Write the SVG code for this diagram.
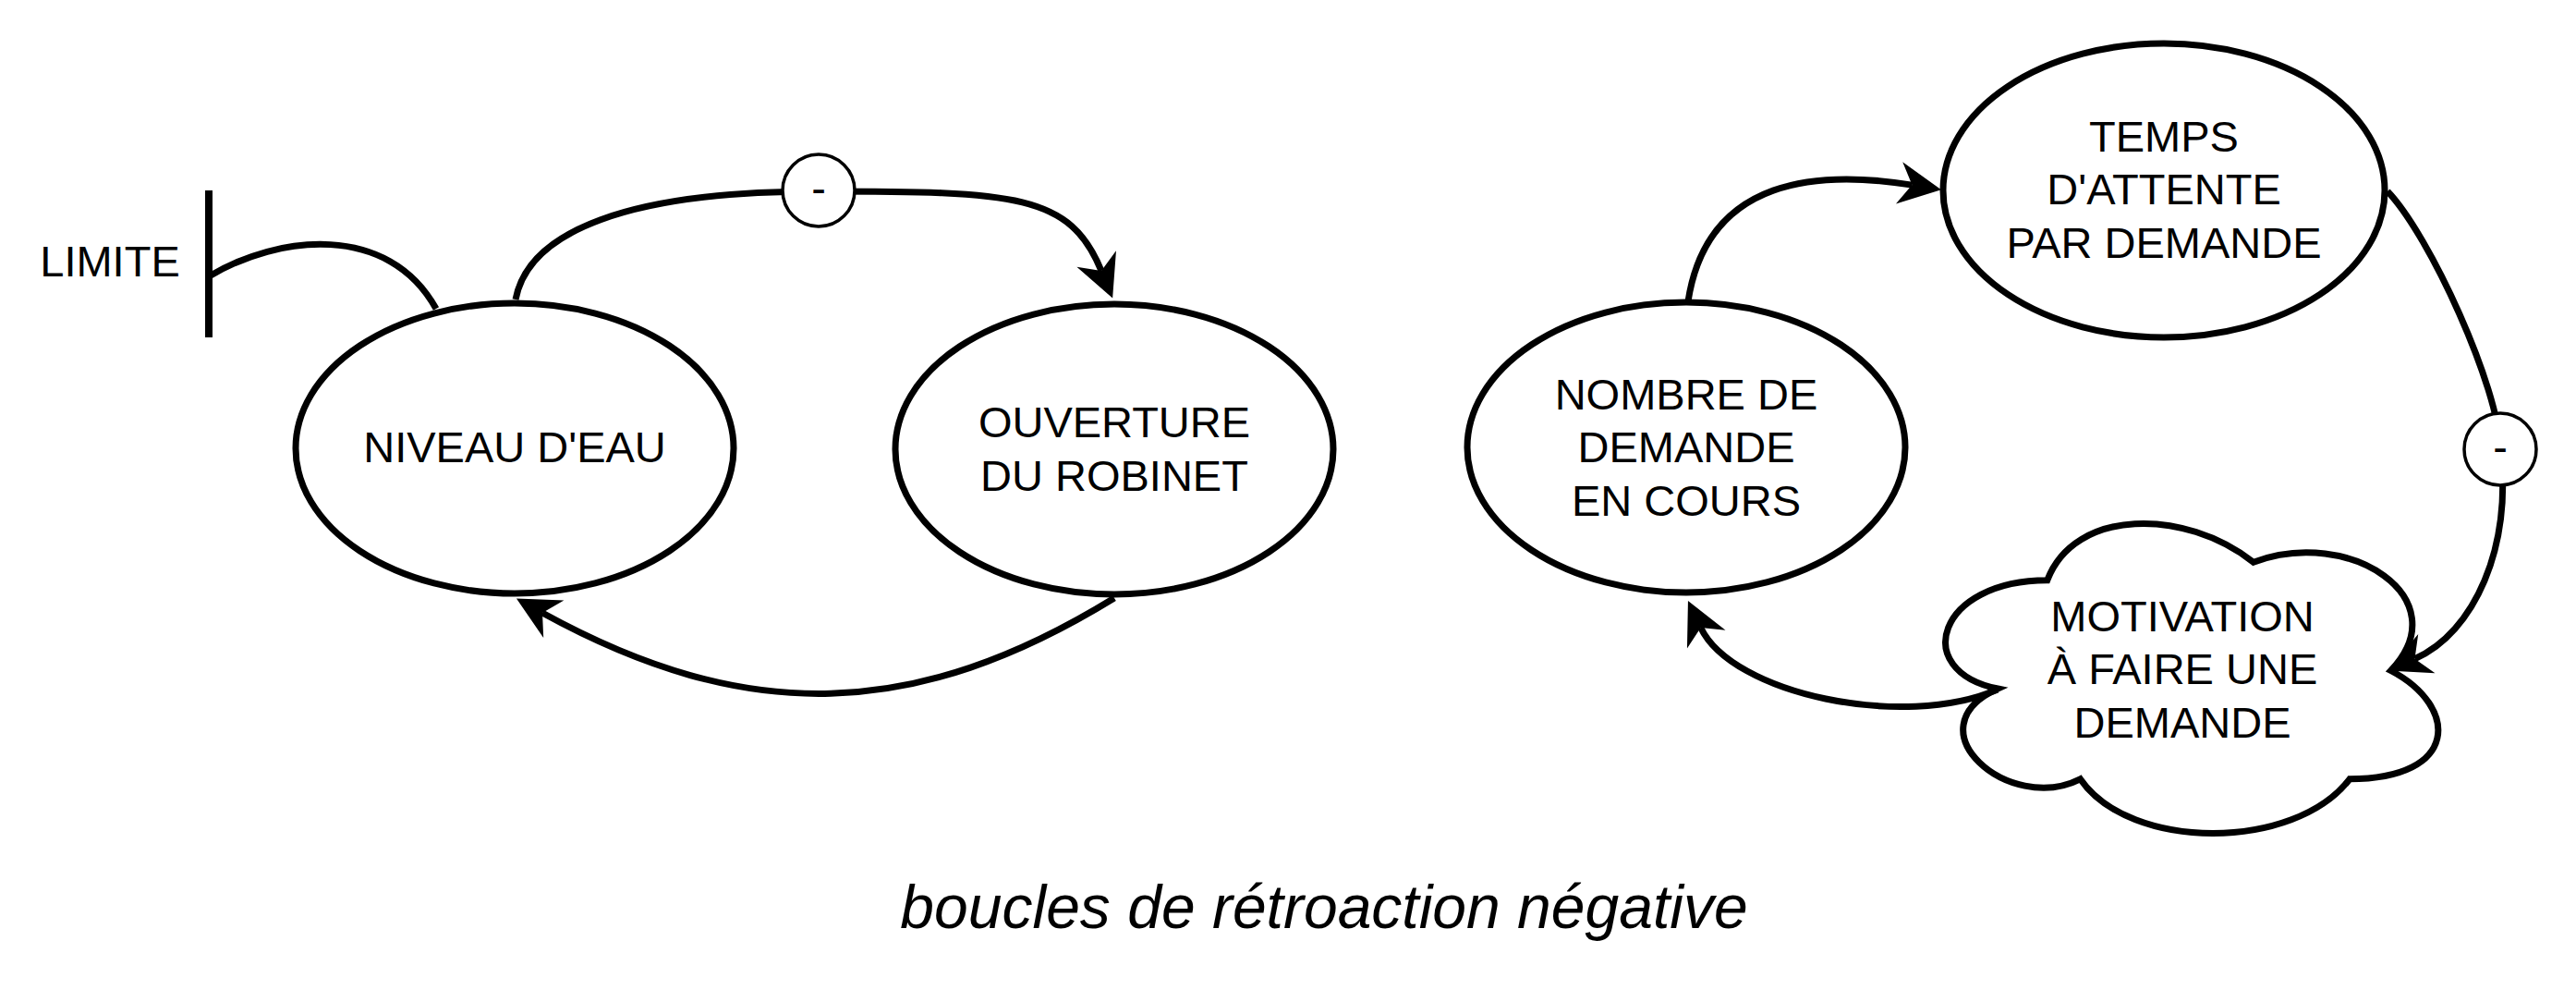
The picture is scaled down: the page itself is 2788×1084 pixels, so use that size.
<svg xmlns="http://www.w3.org/2000/svg" width="2788" height="1084" viewBox="0 0 2788 1084">
  <style>
    .node { fill: #ffffff; stroke: #000000; stroke-width: 7; }
    .lbl { font-family: "Liberation Sans", Arial, Helvetica, sans-serif; font-size: 47px; fill: #000000; text-anchor: middle; }
    .edge { fill: none; stroke: #000000; stroke-width: 7; }
    .sign { fill: #ffffff; stroke: #000000; stroke-width: 3.5; }
    .title { font-family: "Liberation Sans", Arial, Helvetica, sans-serif; font-size: 66px; font-style: italic; fill: #000000; text-anchor: middle; }
  </style>
  <defs>
    <marker id="arrow" markerUnits="userSpaceOnUse" viewBox="-50 -30 60 60" markerWidth="60" markerHeight="60" refX="-32" refY="0" orient="auto" overflow="visible">
      <path d="M0,0 L-46,-23 L-32,0 L-46,23 Z" fill="#000000"/>
    </marker>
  </defs>
  <rect x="0" y="0" width="2788" height="1084" fill="#ffffff"/>

  <g id="limite">
    <text class="lbl" x="119" y="299">LIMITE</text>
    <line x1="226" y1="206" x2="226" y2="365" stroke="#000000" stroke-width="8"/>
  </g>

  <g id="niveau">
    <ellipse class="node" cx="557" cy="485" rx="237" ry="157"/>
    <text class="lbl" x="557" y="500">NIVEAU D'EAU</text>
  </g>

  <g id="ouverture">
    <ellipse class="node" cx="1206" cy="486" rx="237" ry="157"/>
    <text class="lbl" x="1206" y="473">OUVERTURE</text>
    <text class="lbl" x="1206" y="531">DU ROBINET</text>
  </g>

  <g id="nombre">
    <ellipse class="node" cx="1825" cy="484" rx="237" ry="157"/>
    <text class="lbl" x="1825" y="443">NOMBRE DE</text>
    <text class="lbl" x="1825" y="500">DEMANDE</text>
    <text class="lbl" x="1825" y="558">EN COURS</text>
  </g>

  <g id="temps">
    <ellipse class="node" cx="2342" cy="206" rx="239" ry="159"/>
    <text class="lbl" x="2342" y="164">TEMPS</text>
    <text class="lbl" x="2342" y="221">D'ATTENTE</text>
    <text class="lbl" x="2342" y="279">PAR DEMANDE</text>
  </g>

  <g id="motivation">
    <path class="node" d="M2215.75,627.75 C2096.75,627.75 2067,725.5 2162.2,745.05 C2067,788.06 2174.1,881.9 2251.45,842.8 C2305,921 2483.5,921 2543,842.8 C2662,842.8 2662,764.6 2587.6,725.5 C2662,647.3 2543,569.1 2438.9,608.2 C2364.5,549.55 2245.5,549.55 2215.75,627.75 Z"/>
    <text class="lbl" x="2362" y="683">MOTIVATION</text>
    <text class="lbl" x="2362" y="740">À FAIRE UNE</text>
    <text class="lbl" x="2362" y="798">DEMANDE</text>
  </g>

  <g id="connectors">
    <path class="edge" d="M228,298 C300,255 420,240 472,334"/>
    <path class="edge" d="M558,324 C572,250 680,207 886,207 C1100,207 1158,210 1192,293" marker-end="url(#arrow)"/>
    <path class="edge" d="M1206,647 C991,779 809,785 587,663" marker-end="url(#arrow)"/>
    <path class="edge" d="M1827,326 C1848,190 1970.7,184.3 2069.4,200.1" marker-end="url(#arrow)"/>
    <path class="edge" d="M2584,207 C2630,255 2705,420 2706,486 C2720,590 2677.8,684.9 2613.5,712.7" marker-end="url(#arrow)"/>
    <path class="edge" d="M2162,746 C2060,790 1875,751 1840.7,678.9" marker-end="url(#arrow)"/>
    <g id="sign-top">
      <circle class="sign" cx="886" cy="206" r="39"/>
      <text class="lbl" x="886" y="220">-</text>
    </g>
    <g id="sign-right">
      <circle class="sign" cx="2706" cy="486" r="39"/>
      <text class="lbl" x="2706" y="500">-</text>
    </g>
  </g>

  <text class="title" x="1433" y="1004">boucles de rétroaction négative</text>
</svg>
